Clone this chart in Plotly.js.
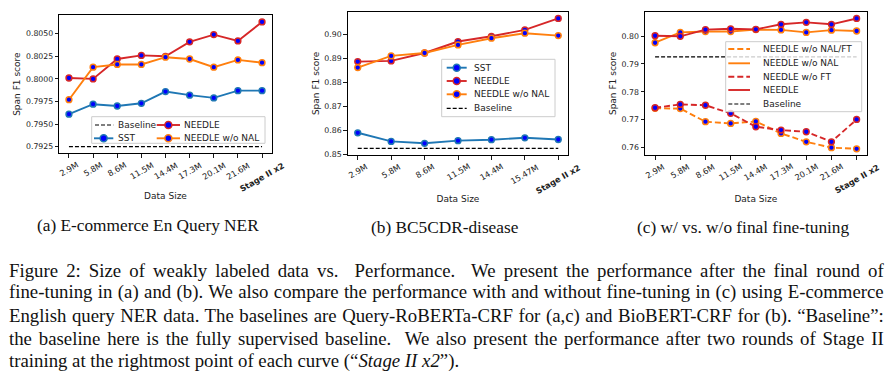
<!DOCTYPE html>
<html><head><meta charset="utf-8">
<script src="https://cdn.plot.ly/plotly-3.0.1.min.js"></script>
<style>html,body{margin:0;padding:0;background:#fff;} #chart{width:895px;height:375px;}</style>
</head><body><div id="chart"></div>
<script>
// ---------- data ----------
const categoriesA = ['2.9M','5.8M','8.6M','11.5M','14.4M','17.3M','20.1M','21.6M','Stage II x2'];
const categoriesB = ['2.9M','5.8M','8.6M','11.5M','14.4M','15.47M','Stage II x2'];
const categoriesC = ['2.9M','5.8M','8.6M','11.5M','14.4M','17.3M','20.1M','21.6M','Stage II x2'];

const needleA      = [0.8001,0.8000,0.8022,0.8026,0.8025,0.8041,0.8049,0.8042,0.8063];
const needleNoNalA = [0.7977,0.8013,0.8016,0.8016,0.8024,0.8022,0.8013,0.8021,0.8018];
const sstA         = [0.7961,0.7972,0.7970,0.7973,0.7986,0.7982,0.7979,0.7987,0.7987];
const baselineA    = 0.7925;

const needleB      = [0.8887,0.8890,0.8923,0.8971,0.8993,0.9020,0.9068];
const needleNoNalB = [0.8862,0.8911,0.8923,0.8957,0.8985,0.9006,0.8996];
const sstB         = [0.8589,0.8553,0.8545,0.8556,0.8560,0.8568,0.8561];
const baselineB    = 0.8524;

const needleC        = [0.8001,0.7999,0.8023,0.8026,0.8024,0.8042,0.8049,0.8042,0.8063];
const needleNoNalC   = [0.7976,0.8013,0.8016,0.8016,0.8023,0.8022,0.8013,0.8021,0.8018];
const needleNoFtC    = [0.7743,0.7755,0.7752,0.7723,0.7675,0.7663,0.7657,0.7621,0.7701];
const needleNoNalFtC = [0.7741,0.7740,0.7693,0.7687,0.7694,0.7651,0.7621,0.7600,0.7596];
const baselineC      = 0.7925;

const subCaptions = ['(a) E-commerce En Query NER','(b) BC5CDR-disease','(c) w/ vs. w/o final fine-tuning'];
const captionLines = [
  'Figure 2: Size of weakly labeled data vs.  Performance.  We present the performance after the final round of',
  'fine-tuning in (a) and (b). We also compare the performance with and without fine-tuning in (c) using E-commerce',
  'English query NER data. The baselines are Query-RoBERTa-CRF for (a,c) and BioBERT-CRF for (b). \u201cBaseline\u201d:',
  'the baseline here is the fully supervised baseline.  We also present the performance after two rounds of Stage II',
  'training at the rightmost point of each curve (\u201c<i>Stage II x2</i>\u201d).'
];

// ---------- styling ----------
const W = 895, H = 375;
const fx = v => v / W, fy = v => 1 - v / H;
const C_BLUE = '#1f77b4', C_RED = '#d62728', C_ORANGE = '#ff7f0e', C_MARK = '#0000ff';
const SANS = 'DejaVu Sans', SERIF = 'Liberation Serif, Times New Roman, serif';
const TXT = '#222';

function series(x, y, name, color, xa, ya, dash) {
  return {type:'scatter', mode:'lines+markers', x:x, y:y, name:name, xaxis:xa, yaxis:ya,
    showlegend:false, hoverinfo:'skip',
    line:{color:color, width:1.9, dash:dash || 'solid'},
    marker:{color:C_MARK, size:5.8, line:{color:color, width:1.5}}};
}
function baseline(cats, val, xa, ya) {
  return {type:'scatter', mode:'lines', x:[cats[0], cats[cats.length-1]], y:[val, val],
    xaxis:xa, yaxis:ya, showlegend:false, hoverinfo:'skip',
    line:{color:'#000', width:1.2, dash:'4px,2px'}};
}

const traces = [
  baseline(categoriesA, baselineA, 'x', 'y'),
  series(categoriesA, sstA, 'SST', C_BLUE, 'x', 'y'),
  series(categoriesA, needleA, 'NEEDLE', C_RED, 'x', 'y'),
  series(categoriesA, needleNoNalA, 'NEEDLE w/o NAL', C_ORANGE, 'x', 'y'),

  series(categoriesB, sstB, 'SST', C_BLUE, 'x2', 'y2'),
  series(categoriesB, needleB, 'NEEDLE', C_RED, 'x2', 'y2'),
  series(categoriesB, needleNoNalB, 'NEEDLE w/o NAL', C_ORANGE, 'x2', 'y2'),
  baseline(categoriesB, baselineB, 'x2', 'y2'),

  series(categoriesC, needleNoNalFtC, 'NEEDLE w/o NAL/FT', C_ORANGE, 'x3', 'y3', '6px,3px'),
  series(categoriesC, needleNoNalC, 'NEEDLE w/o NAL', C_ORANGE, 'x3', 'y3'),
  series(categoriesC, needleNoFtC, 'NEEDLE w/o FT', C_RED, 'x3', 'y3', '6px,3px'),
  series(categoriesC, needleC, 'NEEDLE', C_RED, 'x3', 'y3'),
  baseline(categoriesC, baselineC, 'x3', 'y3')
];

const axisCommon = {showline:true, mirror:true, linecolor:'#000', linewidth:1,
  ticks:'outside', ticklen:3.5, tickwidth:0.9, tickcolor:'#000',
  showgrid:false, zeroline:false, automargin:false, fixedrange:true,
  tickfont:{family:SANS, size:7.8, color:TXT}};
const titleFont = {family:SANS, size:9, color:TXT};

const panels = [
  {x:'x', y:'y', cats:categoriesA, px:[59.3,271.7], py:[15,153.3], yr:[0.79177,0.80707], dt:0.0025, fmt:'.4f', xs:35},
  {x:'x2', y:'y2', cats:categoriesB, px:[347.7,568.3], py:[11.7,155], yr:[0.8496,0.9096], dt:0.01, fmt:'.2f', xs:37},
  {x:'x3', y:'y3', cats:categoriesC, px:[645,866.7], py:[11.7,155], yr:[0.75737,0.80872], dt:0.01, fmt:'.2f', xs:37}
];

const layout = {width:W, height:H, margin:{l:0,r:0,t:0,b:0}, paper_bgcolor:'#fff', plot_bgcolor:'#fff',
  showlegend:false, shapes:[], annotations:[], font:{family:SANS}};

panels.forEach((p, i) => {
  const sfx = i === 0 ? '' : String(i+1);
  layout['xaxis'+sfx] = Object.assign({}, axisCommon, {
    domain:[fx(p.px[0]), fx(p.px[1])], anchor:p.y, type:'category',
    categoryorder:'array', categoryarray:p.cats,
    range:[-0.05*(p.cats.length-1), (p.cats.length-1)*1.05], showticklabels:false,
    title:{text:'Data Size', font:titleFont, standoff:p.xs}});
  layout['yaxis'+sfx] = Object.assign({}, axisCommon, {
    domain:[fy(p.py[1]), fy(p.py[0])], anchor:p.x, range:p.yr, dtick:p.dt, tick0:0,
    tickformat:p.fmt, title:{text:'Span F1 score', font:titleFont, standoff:3}});
  // rotated tick labels, centred on each category (matplotlib style)
  p.cats.forEach((c, k) => {
    layout.annotations.push({xref:p.x, yref:'paper', x:k, y:fy(p.py[1]), xanchor:'center', yanchor:'top',
      yshift:-4, textangle:-30, showarrow:false,
      text: k === p.cats.length-1 ? '<b>'+c+'</b>' : c,
      font:{family:SANS, size:8.2, color:TXT}});
  });
});

// ---------- legends (matplotlib-like compact boxes) ----------
function legendBox(x0, x1, y0, y1) {
  layout.shapes.push({type:'rect', xref:'paper', yref:'paper', layer:'above',
    x0:fx(x0), x1:fx(x1), y0:fy(y1), y1:fy(y0),
    fillcolor:'rgba(255,255,255,0.8)', line:{color:'#cccccc', width:1}});
}
function legendEntry(name, color, dash, marker, hx0, hx1, tx, ty) {
  layout.shapes.push({type:'line', xref:'paper', yref:'paper', layer:'above',
    x0:fx(hx0), x1:fx(hx1), y0:fy(ty), y1:fy(ty),
    line:{color:color, width: color === '#000' ? 1.2 : 1.9, dash:dash}});
  if (marker) {
    const cx = (hx0 + hx1) / 2, r = 3.5;
    layout.shapes.push({type:'circle', xref:'paper', yref:'paper', layer:'above',
      x0:fx(cx - r), x1:fx(cx + r), y0:fy(ty + r), y1:fy(ty - r),
      fillcolor:C_MARK, line:{color:color, width:1.5}});
  }
  layout.annotations.push({xref:'paper', yref:'paper', x:fx(tx), y:fy(ty), xanchor:'left', yanchor:'middle',
    showarrow:false, text:name, font:{family:SANS, size:9, color:TXT}});
}
// (a)
legendBox(91.7, 265, 116.7, 143.3);
legendEntry('Baseline', '#000', '4px,2px', false, 95, 113.3, 115.5, 125);
legendEntry(traces[1].name, C_BLUE, 'solid', true, 94, 113.3, 115.5, 138.3);
legendEntry(traces[2].name, C_RED, 'solid', true, 156.7, 180, 181.5, 125);
legendEntry(traces[3].name, C_ORANGE, 'solid', true, 156.7, 180, 181.5, 138.3);
// (b)
legendBox(441.7, 555, 59.3, 116.7);
legendEntry(traces[4].name, C_BLUE, 'solid', true, 446.7, 466.7, 472, 67.7);
legendEntry(traces[5].name, C_RED, 'solid', true, 446.7, 466.7, 472, 81);
legendEntry(traces[6].name, C_ORANGE, 'solid', true, 446.7, 466.7, 472, 94.3);
legendEntry('Baseline', '#000', '4px,2px', false, 446.7, 466.7, 472, 108.3);
// (c)
legendBox(725.7, 861.7, 41.7, 111.7);
legendEntry(traces[8].name, C_ORANGE, '6px,3px', false, 728.3, 750, 760.5, 49);
legendEntry(traces[9].name, C_ORANGE, 'solid', false, 728.3, 750, 760.5, 63.3);
legendEntry(traces[10].name, C_RED, '6px,3px', false, 728.3, 750, 760.5, 76.7);
legendEntry(traces[11].name, C_RED, 'solid', false, 728.3, 750, 760.5, 90);
legendEntry('Baseline', '#000', '4px,2px', false, 728.3, 750, 760.5, 104);

// ---------- captions ----------
const subX = [148.3, 444.7, 743], subY = [225.5, 227.5, 227.5];
subCaptions.forEach((t, i) => layout.annotations.push({xref:'paper', yref:'paper', x:fx(subX[i]), y:fy(subY[i]),
  xanchor:'center', yanchor:'middle', showarrow:false, text:t, font:{family:SERIF, size:17.3, color:'#111'}}));
const capY = [270.4, 292.2, 315.5, 338.8, 361.2];
const CAP_LEFT = 8.3, CAP_RIGHT = 883;
captionLines.forEach((t, i) => layout.annotations.push({xref:'paper', yref:'paper', x:fx(CAP_LEFT), y:fy(capY[i]),
  xanchor:'left', yanchor:'middle', align:'left', showarrow:false, text:t, borderpad:0,
  font:{family:SERIF, size:18.8, color:'#111'}}));

Plotly.newPlot('chart', traces, layout, {staticPlot:true, displayModeBar:false}).then(gd => {
  // justify the caption lines (all but the last) like the typeset figure caption
  const nodes = Array.from(gd.querySelectorAll('.annotation-text-g text'));
  const target = CAP_RIGHT - CAP_LEFT;
  captionLines.forEach((line, idx) => {
    const el = nodes.find(n => n.textContent === line.replace(/<\/?i>/g, ''));
    if (!el) return;
    const natural = el.getComputedTextLength();
    const spaces = (line.match(/ /g) || []).length;
    if (idx < captionLines.length - 1 && spaces > 0) {
      el.style.wordSpacing = ((target - natural) / spaces) + 'px';
    }
  });
});
</script>
</body></html>
